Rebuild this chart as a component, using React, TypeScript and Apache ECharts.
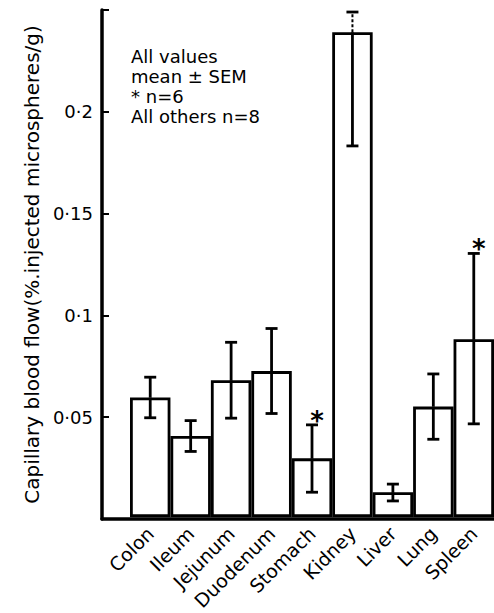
import React, { useEffect, useRef } from "react";
import * as echarts from "echarts";

const categories = ["Colon", "Ileum", "Jejunum", "Duodenum", "Stomach", "Kidney", "Liver", "Lung", "Spleen"];
const meanValues = [0.059, 0.04, 0.0675, 0.072, 0.029, 0.239, 0.0123, 0.0545, 0.0877];
const errorLow = [0.049, 0.0324, 0.0488, 0.0511, 0.0123, 0.183, 0.008, 0.0384, 0.046];
const errorHigh = [0.069, 0.0476, 0.0862, 0.093, 0.0455, 0.249, 0.0163, 0.0706, 0.13];
const upperDotted = [0, 0, 0, 0, 0, 1, 0, 0, 0];
const nSixFlag = [0, 0, 0, 0, 1, 0, 0, 0, 1];
const yTickValues = [0.05, 0.1, 0.15, 0.2];
const yTickLabels = ["0·05", "0·1", "0·15", "0·2"];
const noteLines = ["All values", "mean ± SEM", "* n=6", "All others n=8"];
const yAxisTitle = "Capillary blood flow(%.injected microspheres/g)";

const FONT = "DejaVu Sans";

export default function App() {
  const ref = useRef<HTMLDivElement>(null);
  useEffect(() => {
    if (!ref.current) return;
    const chart = echarts.init(ref.current, null, { renderer: "svg" });
    const errData = categories.map((_, i) => [i, meanValues[i], errorLow[i], errorHigh[i], upperDotted[i], nSixFlag[i]]);
    const top = 10;
    const bottom = 94;
    chart.setOption({
      animation: false,
      backgroundColor: "#fff",
      grid: [
        { left: 102, right: 0, top, bottom },
        { left: 130, width: 367, top, bottom },
      ],
      xAxis: [
        {
          gridIndex: 0,
          type: "value",
          min: 0,
          max: 1,
          axisLine: { show: true, lineStyle: { color: "#000", width: 3.5 } },
          axisTick: { show: false },
          axisLabel: { show: false },
          splitLine: { show: false },
        },
        {
          gridIndex: 1,
          type: "category",
          data: categories,
          axisLine: { show: false },
          axisTick: { show: false },
          axisLabel: {
            rotate: 45,
            interval: 0,
            margin: 13,
            color: "#000",
            fontFamily: FONT,
            fontSize: 19,
          },
        },
      ],
      yAxis: [
        {
          gridIndex: 0,
          type: "value",
          min: 0,
          max: 0.25,
          interval: 0.05,
          name: yAxisTitle,
          nameLocation: "middle",
          nameGap: 59,
          nameTextStyle: { color: "#000", fontFamily: FONT, fontSize: 20 },
          axisLine: { show: true, lineStyle: { color: "#000", width: 3.5 } },
          axisTick: { show: true, inside: true, length: 7, lineStyle: { color: "#000", width: 2 } },
          axisLabel: {
            margin: 9,
            color: "#000",
            fontFamily: FONT,
            fontSize: 18,
            formatter: (v: number) => {
              const idx = yTickValues.findIndex((t) => Math.abs(t - v) < 1e-9);
              return idx >= 0 ? yTickLabels[idx] : "";
            },
          },
          splitLine: { show: false },
        },
        {
          gridIndex: 1,
          type: "value",
          min: 0,
          max: 0.25,
          show: false,
          splitLine: { show: false },
        },
      ],
      graphic: [
        {
          type: "text",
          left: 131,
          top: 46,
          style: {
            text: noteLines.join("\n"),
            font: `18px '${FONT}'`,
            lineHeight: 20,
            fill: "#000",
          },
        },
      ],
      series: [
        {
          type: "bar",
          xAxisIndex: 1,
          yAxisIndex: 1,
          data: meanValues,
          barCategoryGap: "0%",
          itemStyle: { color: "#fff", borderColor: "#000", borderWidth: 2.8 },
          z: 2,
        },
        {
          type: "custom",
          xAxisIndex: 1,
          yAxisIndex: 1,
          data: errData,
          encode: { x: 0, y: 1 },
          z: 5,
          renderItem: (params: any, api: any) => {
            const i = api.value(0);
            const mean = api.coord([i, api.value(1)]);
            const lo = api.coord([i, api.value(2)]);
            const hi = api.coord([i, api.value(3)]);
            const dotted = api.value(4) === 1;
            const star = api.value(5) === 1;
            const cap = 6;
            const style = { stroke: "#000", lineWidth: 2.8 };
            const children: any[] = [
              { type: "line", shape: { x1: lo[0], y1: lo[1], x2: mean[0], y2: mean[1] }, style },
              {
                type: "line",
                shape: { x1: mean[0], y1: mean[1], x2: hi[0], y2: hi[1] },
                style: dotted ? { stroke: "#000", lineWidth: 2, lineDash: [3, 2] } : style,
              },
              { type: "line", shape: { x1: lo[0] - cap, y1: lo[1], x2: lo[0] + cap, y2: lo[1] }, style },
              { type: "line", shape: { x1: hi[0] - cap, y1: hi[1], x2: hi[0] + cap, y2: hi[1] }, style },
            ];
            if (star) {
              children.push({
                type: "text",
                x: hi[0] + 5,
                y: hi[1] + 9,
                style: {
                  text: "*",
                  font: `bold 26px '${FONT}'`,
                  textAlign: "center",
                  textVerticalAlign: "bottom",
                  fill: "#000",
                },
              });
            }
            return { type: "group", children };
          },
        },
      ],
    });
    return () => chart.dispose();
  }, []);
  return <div ref={ref} style={{ position: "fixed", left: 0, top: 0, width: 494, height: 613, background: "#fff" }} />;
}
